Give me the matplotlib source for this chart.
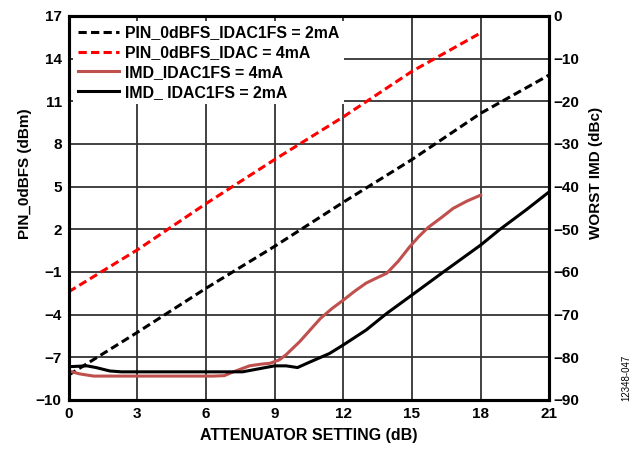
"""
Attenuator setting vs PIN_0dBFS and worst IMD
"""

import matplotlib
matplotlib.use('Agg')
import matplotlib.pyplot as plt

plt.rcParams['font.family'] = ['Liberation Sans', 'DejaVu Sans']
plt.rcParams['font.weight'] = 'bold'
plt.rcParams['font.size'] = 11

# PIN_0dBFS (left axis, dBm)
pin_x = [0, 3, 6, 9, 12, 15, 18, 21]
pin_2ma = [-8.25, -5.25, -2.15, 0.8, 3.9, 6.9, 10.15, 12.85]
pin4_x = [0, 3, 6, 9, 12, 15, 18]
pin_4ma = [-2.4, 0.55, 3.8, 6.9, 9.9, 13.1, 15.8]

# worst IMD (right axis, dBc)
imd4_x = [0, 0.5, 1.1, 3, 5, 6.3, 6.8, 7.2, 7.6, 7.9, 8.4, 8.8, 9.2, 9.5,
          10.1, 10.5, 11, 11.5, 12, 12.5, 13, 13.5, 13.9, 14.4, 14.9, 15.3,
          15.7, 16.3, 16.8, 17.4, 18]
imd_4ma = [-83.2, -83.9, -84.4, -84.4, -84.4, -84.4, -84.3, -83.4, -82.6,
           -82.0, -81.6, -81.4, -80.6, -79.4, -76.3, -73.9, -70.9, -68.6,
           -66.6, -64.5, -62.6, -61.3, -60.3, -57.5, -54.1, -51.7, -49.6,
           -47.2, -45.1, -43.4, -42.0]
imd2_x = [0, 0.8, 1.2, 1.8, 2.3, 4, 6, 7.6, 8.4, 9.0, 9.5, 10.0, 10.5, 11.4,
          12, 13, 13.9, 15, 16.4, 18, 18.8, 20, 21]
imd_2ma = [-82.2, -82.0, -82.4, -83.2, -83.4, -83.4, -83.4, -83.4, -82.6,
           -82.0, -82.0, -82.4, -81.2, -79.1, -77.1, -73.6, -69.7, -65.4,
           -59.9, -53.7, -50.2, -45.4, -41.2]

fig = plt.figure(figsize=(6.44, 4.53), dpi=100)
ax = fig.add_axes([0.1065, 0.117, 0.7465, 0.848])
ax2 = ax.twinx()

dash = (2.7, 1.4)
l1, = ax.plot(pin_x, pin_2ma, color='black', lw=2.2, dashes=dash,
              label='PIN_0dBFS_IDAC1FS = 2mA')
l2, = ax.plot(pin4_x, pin_4ma, color='#ff0000', lw=2.2, dashes=dash,
              label='PIN_0dBFS_IDAC = 4mA')
l3, = ax2.plot(imd4_x, imd_4ma, color='#c0504d', lw=2.2,
               label='IMD_IDAC1FS = 4mA')
l4, = ax2.plot(imd2_x, imd_2ma, color='black', lw=2.2,
               label='IMD_ IDAC1FS = 2mA')

ax.set_xlim(0, 21)
ax.set_ylim(-10, 17)
ax2.set_ylim(-90, 0)
ax.set_xticks(range(0, 22, 3))
ax.set_yticks(range(-10, 18, 3))
ax2.set_yticks(range(-90, 1, 10))

ax.grid(True, color='#333333', lw=1.3)
ax.set_axisbelow(True)
for a in (ax, ax2):
    a.tick_params(length=0, pad=5, labelsize=11)
    for s in a.spines.values():
        s.set_linewidth(2.2)
ax2.tick_params(pad=3)

ax.set_xlabel('ATTENUATOR SETTING (dB)', fontsize=11.5, fontweight='bold',
              labelpad=5)
ax.set_ylabel('PIN_0dBFS (dBm)', fontsize=11, fontweight='bold')
ax.yaxis.set_label_coords(-0.077, 0.59)
ax2.set_ylabel('WORST IMD (dBc)', fontsize=11, fontweight='bold')
ax2.yaxis.set_label_coords(1.083, 0.59)

leg = ax2.legend(handles=[l1, l2, l3, l4], loc='upper left',
                 bbox_to_anchor=(0.0, 1.0), frameon=True, fancybox=False,
                 framealpha=1, facecolor='white', edgecolor='none',
                 handlelength=2.6, handletextpad=0.35, labelspacing=0.3,
                 borderpad=0.3, borderaxespad=0.3, fontsize=11.4)

fig.text(0.972, 0.115, '12348-047', rotation=90, fontsize=7,
         fontweight='normal', ha='center', va='bottom')

plt.savefig('out.png', dpi=100)
